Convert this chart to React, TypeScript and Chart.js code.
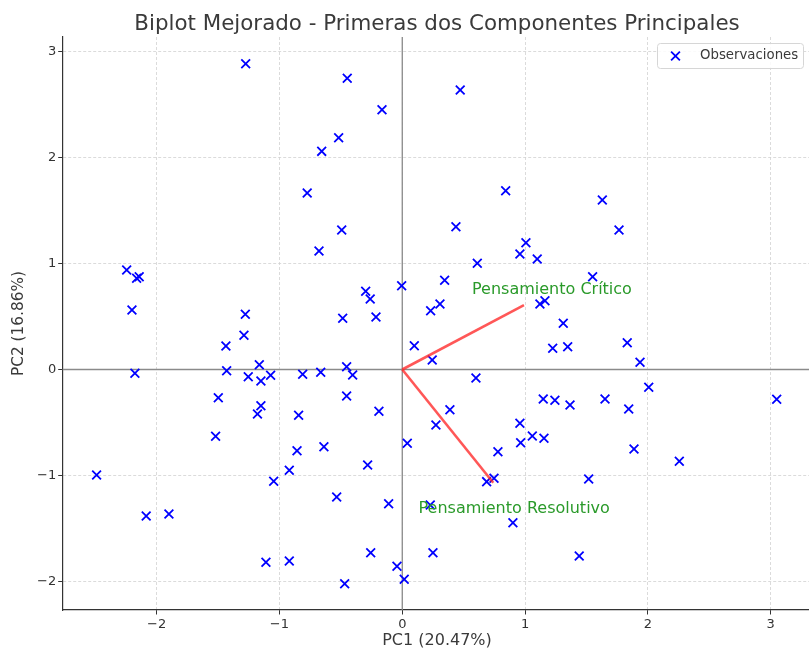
import React, { useEffect, useRef } from 'react';
import { Chart, registerables } from 'chart.js';

Chart.register(...registerables);

// ---- Data ----
const pc1 = [
  -1.275, -0.448, 0.472, -0.165, -0.518, -0.656, -0.774, 0.842, 1.629, 1.765,
  0.437, -0.493, 1.007, -0.678, 0.958, 1.099, 0.611, -2.244, -2.163, -2.142,
  1.550, -0.005, 0.345, -0.298, -0.261, 0.307, 0.231, 1.121, 1.162, -2.201,
  -1.278, -0.485, -0.214, 1.311, -1.289, 0.098, -1.436, 1.225, 1.347, 1.832,
  1.936, 0.244, -2.177, -1.164, -1.430, -1.254, -1.151, -1.072, -0.811, -0.664,
  -0.453, -0.404, 0.600, 2.007, 3.049, 1.651, 1.148, 1.243, 1.366, -1.498,
  -0.453, -1.151, -1.179, -0.844, -0.190, 0.388, 1.844, 0.274, 0.958, 1.059,
  1.154, 0.964, -1.520, 0.041, -0.638, -0.857, 0.779, 1.887, -0.282, -0.920,
  2.256, -2.489, -1.047, 1.518, 0.687, 0.747, -0.534, -0.111, -2.085, -1.900,
  0.228, 0.901, -1.110, -0.920, -0.257, 0.250, 1.441, -0.043, 0.016, -0.469,
];
const pc2 = [
  2.885, 2.747, 2.637, 2.451, 2.187, 2.058, 1.665, 1.687, 1.599, 1.316,
  1.347, 1.316, 1.196, 1.118, 1.090, 1.042, 1.002, 0.939, 0.860, 0.875,
  0.875, 0.791, 0.842, 0.738, 0.665, 0.618, 0.555, 0.618, 0.649, 0.561,
  0.521, 0.483, 0.495, 0.436, 0.323, 0.225, 0.222, 0.200, 0.215, 0.253,
  0.068, 0.090, -0.036, 0.045, -0.011, -0.068, -0.108, -0.055, -0.045, -0.026,
  0.026, -0.052, -0.080, -0.168, -0.281, -0.278, -0.278, -0.291, -0.335, -0.266,
  -0.250, -0.342, -0.420, -0.432, -0.394, -0.379, -0.373, -0.524, -0.508, -0.627,
  -0.649, -0.691, -0.630, -0.696, -0.728, -0.766, -0.775, -0.750, -0.901, -0.951,
  -0.866, -0.995, -1.055, -1.033, -1.058, -1.026, -1.203, -1.266, -1.382, -1.363,
  -1.278, -1.445, -1.819, -1.807, -1.728, -1.728, -1.759, -1.857, -1.979, -2.021,
];

const loadingNames = ['Pensamiento Crítico', 'Pensamiento Resolutivo'];
const loadingPC1 = [0.991, 0.741];
const loadingPC2 = [0.608, -1.068];
const labelFactor = 1.23;

const xTicks = [-2, -1, 0, 1, 2, 3];
const yTicks = [-2, -1, 0, 1, 2, 3];
const xRange = [-2.765, 3.312];
const yRange = [-2.269, 3.137];

const titleText = 'Biplot Mejorado - Primeras dos Componentes Principales';
const xLabel = 'PC1 (20.47%)';
const yLabel = 'PC2 (16.86%)';
const legendLabel = 'Observaciones';

const FONT = '"DejaVu Sans", Verdana, sans-serif';

const fmt = (v: number) => (v < 0 ? '\u2212' + Math.abs(v) : String(v));

const decorPlugin = {
  id: 'decor',
  beforeDatasetsDraw(chart: any) {
    const { ctx, chartArea: a, scales } = chart;
    const x0 = scales.x.getPixelForValue(0);
    const y0 = scales.y.getPixelForValue(0);
    ctx.save();
    ctx.strokeStyle = '#8a8a8a';
    ctx.lineWidth = 1.3;
    ctx.beginPath();
    ctx.moveTo(a.left, y0);
    ctx.lineTo(a.right, y0);
    ctx.moveTo(x0, a.top);
    ctx.lineTo(x0, a.bottom);
    ctx.stroke();
    ctx.restore();
  },
  afterDraw(chart: any) {
    const { ctx, chartArea: a, scales } = chart;
    ctx.save();
    // title
    ctx.fillStyle = '#3a3a3a';
    ctx.font = `21.4px ${FONT}`;
    ctx.textAlign = 'center';
    ctx.textBaseline = 'alphabetic';
    ctx.fillText(titleText, 437, 29.5);
    // axis labels
    ctx.fillStyle = '#3a3a3a';
    ctx.textBaseline = 'middle';
    ctx.font = `16px ${FONT}`;
    ctx.fillText(xLabel, 437, 641);
    ctx.save();
    ctx.font = `15.3px ${FONT}`;
    ctx.translate(19, (a.top + a.bottom) / 2);
    ctx.rotate(-Math.PI / 2);
    ctx.fillText(yLabel, 0, 0);
    ctx.restore();
    // loading labels
    ctx.fillStyle = '#2a9a2a';
    ctx.font = `16px ${FONT}`;
    for (let i = 0; i < loadingNames.length; i++) {
      const px = scales.x.getPixelForValue(loadingPC1[i] * labelFactor);
      const py = scales.y.getPixelForValue(loadingPC2[i] * labelFactor);
      ctx.fillText(loadingNames[i], px, py);
    }
    // legend
    const lx = 657, ly = 43, lw = 146, lh = 25;
    ctx.fillStyle = 'rgba(255,255,255,0.85)';
    ctx.strokeStyle = '#d6d6d6';
    ctx.lineWidth = 1;
    ctx.beginPath();
    ctx.roundRect(lx + 0.5, ly + 0.5, lw, lh, 3);
    ctx.fill();
    ctx.stroke();
    const mx = 675.5, my = 56, r = 4.4;
    ctx.strokeStyle = '#0000ff';
    ctx.lineWidth = 1.8;
    ctx.beginPath();
    ctx.moveTo(mx - r, my - r);
    ctx.lineTo(mx + r, my + r);
    ctx.moveTo(mx - r, my + r);
    ctx.lineTo(mx + r, my - r);
    ctx.stroke();
    ctx.fillStyle = '#3a3a3a';
    ctx.font = `13.3px ${FONT}`;
    ctx.textAlign = 'left';
    ctx.fillText(legendLabel, 700, 56);
    ctx.restore();
  },
};

export default function App() {
  const ref = useRef<HTMLCanvasElement | null>(null);
  useEffect(() => {
    if (!ref.current) return;
    document.body.style.margin = '0';
    const points = pc1.map((x, i) => ({ x, y: pc2[i] }));
    const arrowSets = loadingNames.map((name, i) => ({
      type: 'line' as const,
      label: name,
      data: [
        { x: 0, y: 0 },
        { x: loadingPC1[i], y: loadingPC2[i] },
      ],
      showLine: true,
      borderColor: 'rgba(255,40,40,0.78)',
      borderWidth: 2.6,
      pointRadius: 0,
      fill: false,
    }));
    const chart = new Chart(ref.current, {
      type: 'scatter',
      data: {
        datasets: [
          ...arrowSets,
          {
            label: legendLabel,
            data: points,
            pointStyle: 'crossRot',
            radius: 6.2,
            borderColor: '#0000ff',
            backgroundColor: '#0000ff',
            borderWidth: 1.8,
          } as any,
        ],
      },
      options: {
        responsive: false,
        animation: false,
        layout: { autoPadding: false, padding: { top: 37, left: 0, right: 0, bottom: 0 } },
        plugins: {
          legend: { display: false },
          title: { display: false },
          tooltip: { enabled: false },
        },
        scales: {
          x: {
            type: 'linear',
            min: xRange[0],
            max: xRange[1],
            afterBuildTicks: (s: any) => {
              s.ticks = xTicks.map((v) => ({ value: v }));
            },
            afterFit: (s: any) => {
              s.height = 39;
            },
            ticks: {
              callback: (v: any) => fmt(Number(v)),
              font: { family: FONT, size: 13 },
              color: '#333',
              padding: 2,
              maxRotation: 0,
            },
            grid: {
              color: '#d2d2d2',
              lineWidth: 0.8,
              tickColor: '#333',
              tickLength: 4.5,
              tickWidth: 1,
              tickBorderDash: [],
            },
            border: { display: true, color: '#333', width: 1.2, dash: [3, 2] },
          },
          y: {
            type: 'linear',
            min: yRange[0],
            max: yRange[1],
            afterBuildTicks: (s: any) => {
              s.ticks = yTicks.map((v) => ({ value: v }));
            },
            afterFit: (s: any) => {
              s.width = 62.7;
            },
            ticks: {
              callback: (v: any) => fmt(Number(v)),
              font: { family: FONT, size: 13 },
              color: '#333',
              padding: 2,
            },
            grid: {
              color: '#d2d2d2',
              lineWidth: 0.8,
              tickColor: '#333',
              tickLength: 4.5,
              tickWidth: 1,
              tickBorderDash: [],
            },
            border: { display: true, color: '#333', width: 1.2, dash: [3, 2] },
          },
        },
      },
      plugins: [decorPlugin],
    });
    return () => chart.destroy();
  }, []);
  return (
    <div style={{ position: 'fixed', left: 0, top: 0, width: 809, height: 649, background: '#fff' }}>
      <canvas ref={ref} width={809} height={649} style={{ display: 'block' }} />
    </div>
  );
}
